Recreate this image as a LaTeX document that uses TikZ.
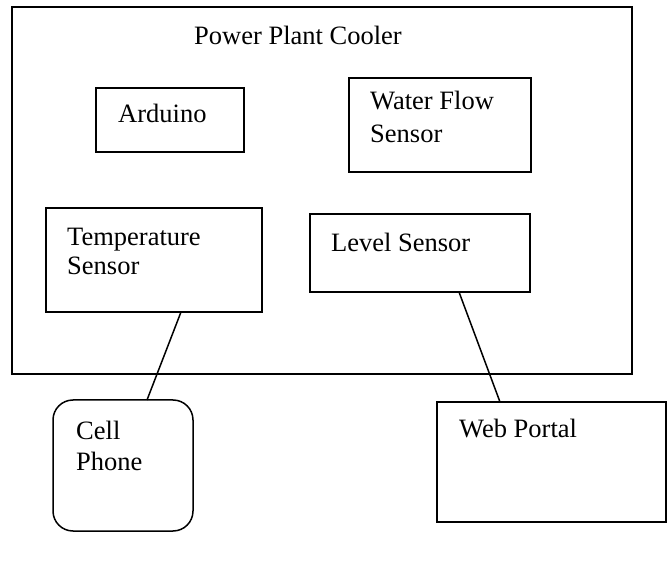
\documentclass[tikz,border=0pt]{standalone}
\usepackage{fontspec}
\setmainfont{Liberation Serif}
\begin{document}
\begin{tikzpicture}[x=1pt,y=-1pt,
  box/.style={draw,line width=1.5pt},
  lbl/.style={anchor=base west,inner sep=0pt,font=\fontsize{26.5}{30}\selectfont},
  link/.style={line width=1.5pt}]
\useasboundingbox (0,0) rectangle (670,561);
\draw[box] (12,7) rectangle (632,374);
\node[lbl] (title) at (194,45) {Power Plant Cooler};
\draw[box] (96,88) rectangle (244,152);
\node[lbl] (ard) at (118,123) {Arduino};
\draw[box] (349,78) rectangle (531,172);
\node[lbl] (wf1) at (370,110) {Water Flow};
\node[lbl] (wf2) at (370,143) {Sensor};
\draw[box] (46,208) rectangle (262,312);
\node[lbl] (ts1) at (67,246) {Temperature};
\node[lbl] (ts2) at (67,275) {Sensor};
\draw[box] (310,214) rectangle (530,292);
\node[lbl] (ls) at (331,252) {Level Sensor};
\draw[box] (437,402) rectangle (666,522);
\node[lbl] (wp) at (459,438) {Web Portal};
\draw[box,rounded corners=20pt] (53,400) rectangle (193,531);
\node[lbl] (cp1) at (76,440) {Cell};
\node[lbl] (cp2) at (76,471) {Phone};
\coordinate (tsb) at (181,312);
\coordinate (cpt) at (147,400);
\coordinate (lsb) at (459,292);
\coordinate (wpt) at (500,402);
\draw[link] (tsb) -- (cpt);
\draw[link] (lsb) -- (wpt);
\end{tikzpicture}
\end{document}
